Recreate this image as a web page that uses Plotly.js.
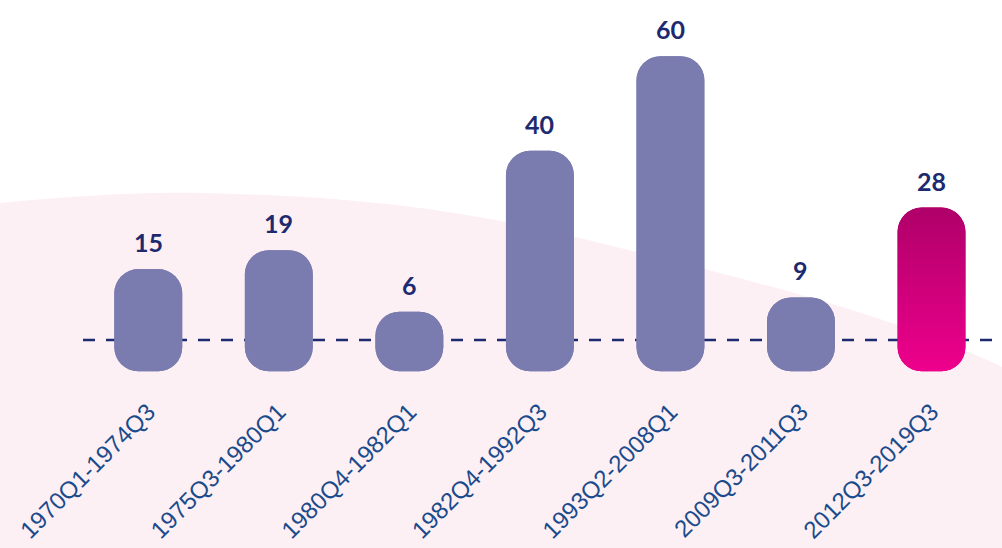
<!DOCTYPE html>
<html>
<head>
<meta charset="utf-8">
<script src="https://cdn.plot.ly/plotly-3.0.1.min.js"></script>
<style>html,body{margin:0;padding:0;background:#fff;}#chart{width:1002px;height:548px;}</style>
</head>
<body>
<div id="chart"></div>
<script>
const categories = ["1970Q1-1974Q3","1975Q3-1980Q1","1980Q4-1982Q1","1982Q4-1992Q3","1993Q2-2008Q1","2009Q3-2011Q3","2012Q3-2019Q3"];
const values = [15, 19, 6, 40, 60, 9, 28];
const highlight = [false, false, false, false, false, false, true];

const barBottom = -6.6;
const baseColor = '#7a7bae';
const hiColor = '#d0007e';
const navy = '#1d2a6f';
const colors = highlight.map(h => h ? hiColor : baseColor);

const W = 1002, H = 548, L = 83, R = 0, T = 0, B = 168;
const px = x => (x - L) / (W - L - R);
const py = y => (H - B - y) / (H - T - B);
function pathFromPx(cmds){
  return cmds.map(c => c[0] + ' ' + c.slice(1).reduce((a,v,i)=>{
    if(i%2===0) a.push(px(v).toFixed(4)); else a[a.length-1] += ',' + py(v).toFixed(4);
    return a;},[]).join(' ')).join(' ') + ' Z';
}
const bgPath = pathFromPx([
  ['M',0,203],
  ['C',80,195,150,192,200,193],
  ['C',350,196,460,208,600,243],
  ['C',760,282,900,318,1002,367],
  ['L',1002,548],
  ['L',0,548]
]);

const traceTop = {
  type:'bar', x:categories, y:values.map(v => v - barBottom), base:values.map(()=>barBottom),
  marker:{color:colors, cornerradius:24, line:{width:0}}, hoverinfo:'skip', showlegend:false
};
const traceBottom = {
  type:'bar', x:categories, y:values.map(v => -(v - barBottom)), base:values,
  marker:{color:colors, cornerradius:24, line:{width:0}}, hoverinfo:'skip', showlegend:false
};

const annotations = categories.map((c,i)=>({
  x:c, y:values[i], xref:'x', yref:'y', text:String(values[i]), showarrow:false,
  yshift:27, font:{family:'Lato, "Open Sans", sans-serif', size:25, color:navy, weight:700}
}));

const layout = {
  width:W, height:H, margin:{l:L, r:R, t:T, b:B},
  paper_bgcolor:'rgba(0,0,0,0)', plot_bgcolor:'rgba(0,0,0,0)',
  barmode:'overlay', bargap:0.48,
  xaxis:{type:'category', range:[-0.5, 6.54], tickangle:-45, showgrid:false, zeroline:false, showline:false, ticks:'',
    ticklabelstandoff:12,
    tickfont:{family:'"Liberation Sans", Arial, sans-serif', size:24, color:'#1a4b8c'}, fixedrange:true},
  yaxis:{range:[-8.45, 71.9], visible:false, showgrid:false, zeroline:false, fixedrange:true},
  shapes:[
    {type:'path', xref:'paper', yref:'paper', path:bgPath, fillcolor:'#fdf0f5', line:{width:0}, layer:'below'},
    {type:'line', xref:'paper', yref:'y', x0:0, x1:1, y0:0, y1:0, line:{color:navy, width:2.5, dash:'12px,11px'}, layer:'below'}
  ],
  annotations:annotations
};

Plotly.newPlot('chart', [traceTop, traceBottom], layout, {displayModeBar:false, staticPlot:true}).then(gd => {
  const svg = gd.querySelector('.main-svg');
  let defs = svg.querySelector('defs');
  const ns = 'http://www.w3.org/2000/svg';
  const grad = document.createElementNS(ns, 'linearGradient');
  grad.setAttribute('id', 'hiGrad');
  grad.setAttribute('x1','0'); grad.setAttribute('y1','0'); grad.setAttribute('x2','0'); grad.setAttribute('y2','1');
  [['0','#af0069'],['1','#ee008c']].forEach(([o,c])=>{
    const s = document.createElementNS(ns,'stop'); s.setAttribute('offset',o); s.setAttribute('stop-color',c); grad.appendChild(s);
  });
  defs.appendChild(grad);
  gd.querySelectorAll('.barlayer .trace').forEach(tr => {
    const paths = tr.querySelectorAll('.point path');
    highlight.forEach((h,i) => { if(h && paths[i]) paths[i].style.fill = 'url(#hiGrad)'; });
  });
});
</script>
</body>
</html>
